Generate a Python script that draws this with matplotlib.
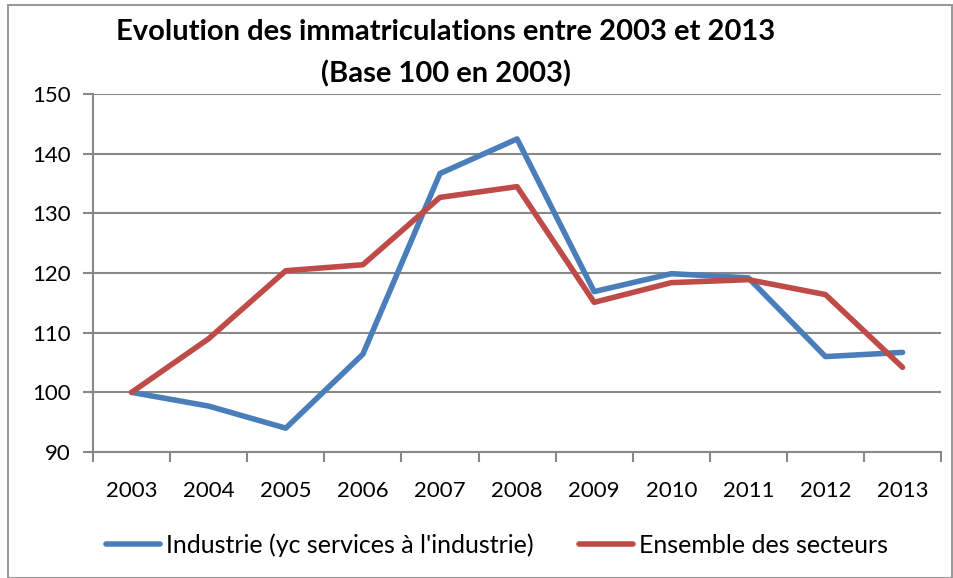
import matplotlib.pyplot as plt
from matplotlib.patches import Rectangle

years = ['2003', '2004', '2005', '2006', '2007', '2008', '2009', '2010', '2011', '2012', '2013']
industrie = [100, 97.7, 94.0, 106.4, 136.7, 142.5, 116.9, 119.9, 119.2, 106.0, 106.7]
ensemble = [100, 109.0, 120.4, 121.4, 132.7, 134.5, 115.1, 118.4, 118.9, 116.4, 104.2]

plt.rcParams['font.family'] = ['Lato', 'DejaVu Sans']

fig = plt.figure(figsize=(9.54, 5.78), dpi=100)
ax = fig.add_axes([0.0975, 0.218, 0.889, 0.619])

x = range(len(years))
l1, = ax.plot(x, industrie, color='#4A7EBB', lw=4, solid_capstyle='round', solid_joinstyle='round')
l2, = ax.plot(x, ensemble, color='#BE4B48', lw=4, solid_capstyle='round', solid_joinstyle='round')

ax.set_xlim(-0.5, 10.5)
ax.set_ylim(90, 150)
ax.set_yticks(range(90, 151, 10))
ax.set_xticks(list(x))
ax.set_xticklabels(years)
ax.set_xticks([i - 0.5 for i in range(12)], minor=True)
ax.tick_params(axis='x', which='major', length=0, pad=21, labelsize=16)
ax.tick_params(axis='x', which='minor', length=7, color='#888888', width=1.5)
ax.tick_params(axis='y', length=7, color='#888888', width=1.5, labelsize=16, pad=9)
ax.grid(axis='y', color='#888888', lw=1.5)
for s in ['top', 'right']:
    ax.spines[s].set_visible(False)
for s in ['left', 'bottom']:
    ax.spines[s].set_color('#888888')
    ax.spines[s].set_linewidth(1.5)
ax.set_axisbelow(True)

fig.text(0.467, 0.945, 'Evolution des immatriculations entre 2003 et 2013', ha='center', va='center',
         fontsize=21, fontweight='bold')
fig.text(0.467, 0.873, '(Base 100 en 2003)', ha='center', va='center', fontsize=21, fontweight='bold')

fig.legend([l1, l2], ["Industrie (yc services à l'industrie)", 'Ensemble des secteurs'],
           loc='center', bbox_to_anchor=(0.521, 0.057), ncol=2, frameon=False, fontsize=18,
           handlelength=2.16, handletextpad=0.25, columnspacing=1.8)

fig.patches.append(Rectangle((0.008, 0.0), 0.99, 0.992, transform=fig.transFigure,
                             fill=False, edgecolor='#999999', lw=1.5))

fig.savefig('out.png', dpi=100)
